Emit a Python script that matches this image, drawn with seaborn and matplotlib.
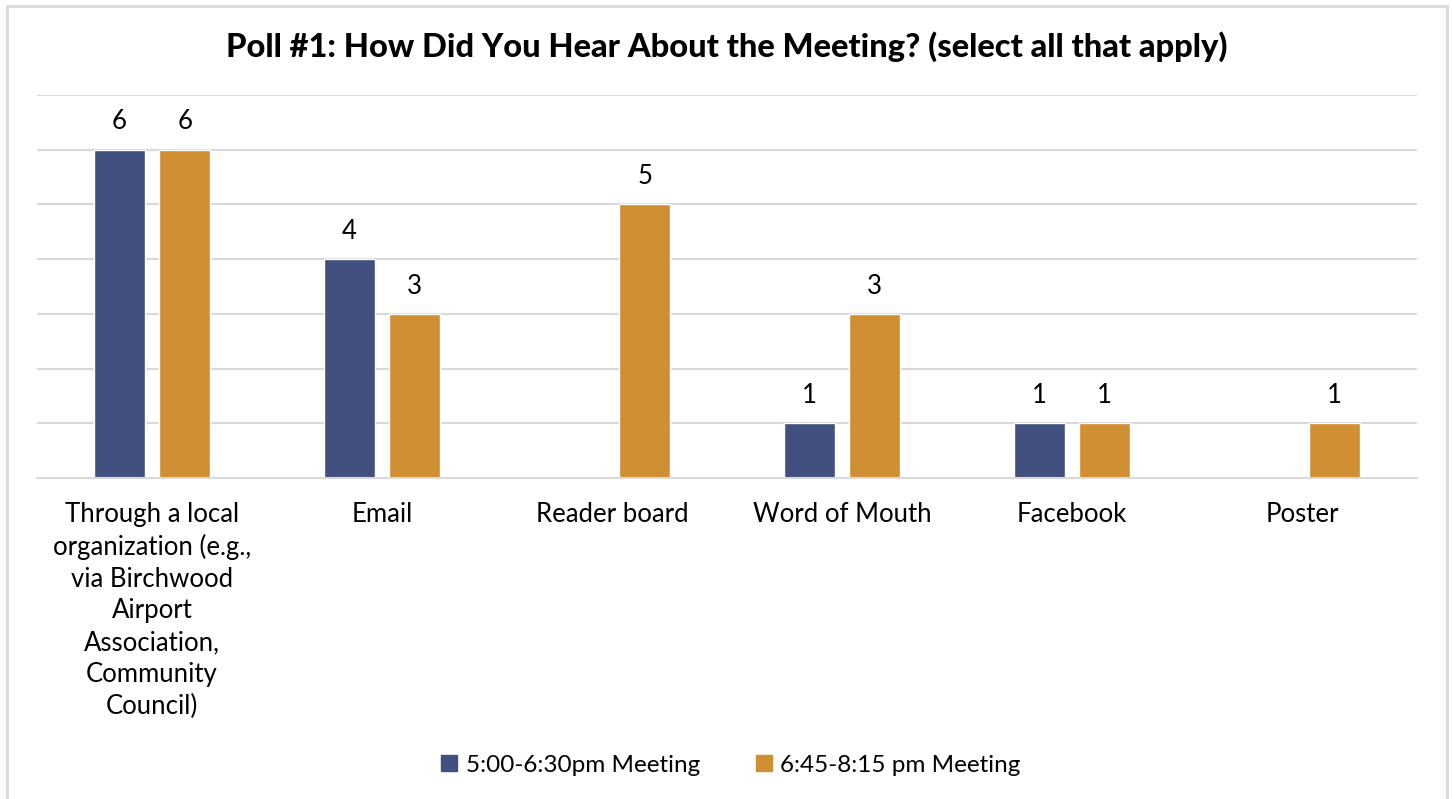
import matplotlib
matplotlib.use("Agg")
import matplotlib.pyplot as plt
import seaborn as sns
import pandas as pd
from matplotlib.patches import Rectangle

categories = [
    "Through a local\norganization (e.g.,\nvia Birchwood\nAirport\nAssociation,\nCommunity\nCouncil)",
    "Email",
    "Reader board",
    "Word of Mouth",
    "Facebook",
    "Poster",
]
series_names = ["5:00-6:30pm Meeting", "6:45-8:15 pm Meeting"]
early_values = [6, 4, 0, 1, 1, 0]
late_values = [6, 3, 5, 3, 1, 1]
colors = ["#41507F", "#D08F33"]

rows = []
for c, v in zip(categories, early_values):
    rows.append({"category": c, "series": series_names[0], "value": v})
for c, v in zip(categories, late_values):
    rows.append({"category": c, "series": series_names[1], "value": v})
df = pd.DataFrame(rows)

sns.set_theme(style="white")
plt.rcParams["font.family"] = ["Lato", "DejaVu Sans"]

fig = plt.figure(figsize=(14.52, 7.99), dpi=100)
ax = fig.add_axes([37 / 1452, 1 - 478 / 799, 1380 / 1452, (478 - 95) / 799])

sns.barplot(data=df, x="category", y="value", hue="series", order=categories,
            hue_order=series_names, palette=colors, width=0.57, gap=0.22,
            ax=ax, legend=False, saturation=1)

ax.set_ylim(0, 7)
ax.set_xlim(-0.5, len(categories) - 0.5)
ax.set_yticks(range(0, 8))
ax.yaxis.grid(True, color="#D9D9D9", linewidth=1.5)
ax.set_axisbelow(True)
ax.tick_params(axis="y", left=False, labelleft=False)
ax.tick_params(axis="x", bottom=False, labelsize=18.5, pad=11, labelcolor="#000000")
for lbl in ax.get_xticklabels():
    lbl.set_linespacing(1.34)
    lbl.set_va("top")
for s in ["top", "right", "left"]:
    ax.spines[s].set_visible(False)
ax.spines["bottom"].set_color("#D9D9D9")
ax.spines["bottom"].set_linewidth(1.5)
ax.set_xlabel("")
ax.set_ylabel("")

for cont in ax.containers:
    labels = [f"{int(v)}" if v > 0 else "" for v in cont.datavalues]
    ax.bar_label(cont, labels=labels, padding=11, fontsize=18.5, color="#000000")

fig.suptitle("Poll #1: How Did You Hear About the Meeting? (select all that apply)",
             x=727 / 1452, y=1 - 47 / 799, va="center", fontsize=23.5, fontweight="black",
             color="#000000")

handles = [Rectangle((0, 0), 1, 1, color=c) for c in colors]
fig.legend(handles, series_names, loc="center", bbox_to_anchor=(731 / 1452, 1 - 765 / 799),
           ncol=2, frameon=False, fontsize=17.5, handlelength=0.65, handleheight=0.65,
           handletextpad=0.35, columnspacing=2.3, labelcolor="#000000")

fig.patches.append(Rectangle((6.5 / 1452, -0.05), (1446.5 - 6.5) / 1452, 1.05 - 5.5 / 799,
                             transform=fig.transFigure, fill=False, edgecolor="#D9D9D9",
                             linewidth=2))

fig.savefig("out.png", dpi=100)
